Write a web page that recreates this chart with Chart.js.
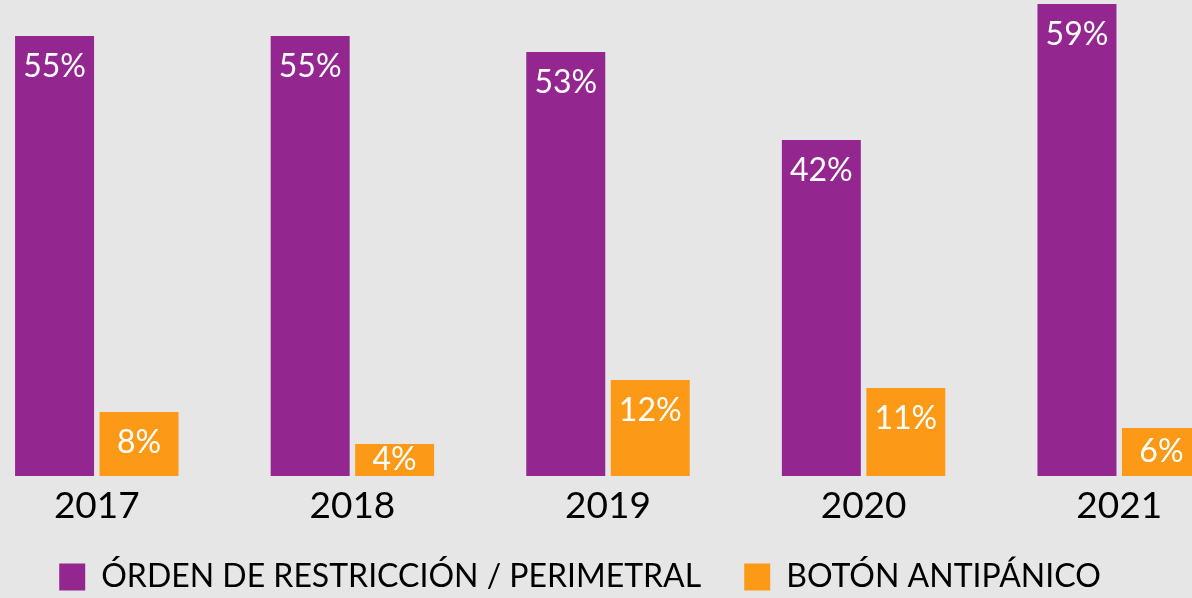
<!DOCTYPE html>
<html>
<head>
<meta charset="utf-8">
<script src="https://cdn.jsdelivr.net/npm/chart.js@4/dist/chart.umd.min.js"></script>
<style>
  html, body { margin: 0; padding: 0; background: #e6e6e6; overflow: hidden; }
  #wrap { position: absolute; left: -31px; top: 0; width: 1278px; height: 598px; }
</style>
</head>
<body>
<div id="wrap"><canvas id="bar-chart"></canvas></div>
<script>
const years = ["2017", "2018", "2019", "2020", "2021"];
const orden = [55, 55, 53, 42, 59];
const boton = [8, 4, 12, 11, 6];
const seriesNames = ["ÓRDEN DE RESTRICCIÓN / PERIMETRAL", "BOTÓN ANTIPÁNICO"];

// etiquetas blancas dentro de cada barra
const barLabels = {
  id: "barLabels",
  afterDatasetsDraw(chart) {
    const ctx = chart.ctx;
    ctx.save();
    ctx.fillStyle = "#ffffff";
    ctx.font = "32px Lato";
    ctx.textAlign = "center";
    ctx.textBaseline = "middle";
    chart.data.datasets.forEach((ds, i) => {
      chart.getDatasetMeta(i).data.forEach((bar, j) => {
        const h = bar.base - bar.y;
        ctx.fillText(ds.data[j] + "%", bar.x, bar.y + Math.min(31, h / 2));
      });
    });
    ctx.restore();
  },
};

// ajustes despues del layout: la leyenda del original no esta centrada,
// y el eje x necesita mas alto para que no se corten los años
const fixLayout = {
  id: "fixLayout",
  afterLayout(chart) {
    const lg = chart.legend;
    lg.left -= 28;
    lg.right -= 28;
    lg.top += 5;
    lg.bottom += 5;
    chart.scales.x.bottom = chart.scales.x.top + 60;
  },
};

new Chart(document.getElementById("bar-chart"), {
  type: "bar",
  data: {
    labels: years,
    datasets: [
      {
        label: seriesNames[0],
        data: orden,
        backgroundColor: "#93278f",
        borderWidth: 0,
      },
      {
        label: seriesNames[1],
        data: boton,
        backgroundColor: "#fc9a17",
        borderWidth: 0,
      },
    ],
  },
  options: {
    responsive: true,
    maintainAspectRatio: false,
    animation: false,
    categoryPercentage: 0.661,
    barPercentage: 0.935,
    layout: { padding: 0 },
    scales: {
      x: {
        grid: { display: false, drawTicks: false },
        border: { display: false },
        ticks: {
          color: "#000000",
          padding: 8,
          font: { family: "Lato", size: 37 },
        },
        afterFit(scale) {
          scale.height = 37;
        },
      },
      y: {
        display: false,
        min: 0,
        max: 59.5,
      },
    },
    plugins: {
      legend: {
        position: "bottom",
        labels: {
          color: "#000000",
          boxWidth: 26,
          boxHeight: 27,
          padding: 43,
          font: { family: "Lato", size: 32 },
        },
      },
      tooltip: { enabled: false },
    },
  },
  plugins: [barLabels, fixLayout],
});
</script>
</body>
</html>
